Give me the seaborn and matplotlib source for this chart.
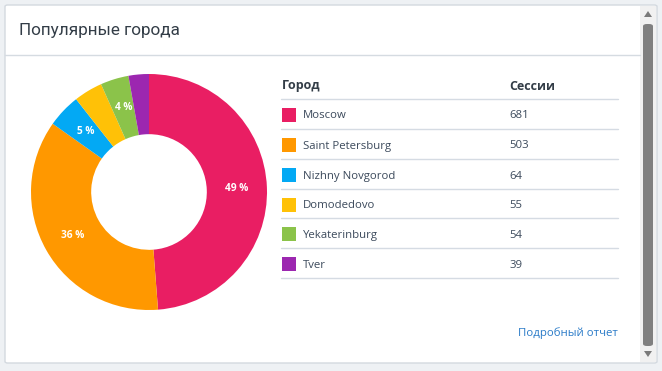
import matplotlib
matplotlib.use('Agg')
import matplotlib.pyplot as plt
import seaborn as sns
from matplotlib.patches import FancyBboxPatch, Rectangle, Polygon
from matplotlib.lines import Line2D

# data
cities = ['Moscow', 'Saint Petersburg', 'Nizhny Novgorod', 'Domodedovo', 'Yekaterinburg', 'Tver']
sessions = [681, 503, 64, 55, 54, 39]
slice_labels = ['49 %', '36 %', '5 %', '', '4 %', '']
colors = sns.color_palette(['#E91E63', '#FF9800', '#03A9F4', '#FFC107', '#8BC34A', '#9C27B0'])
title = 'Популярные города'
col_headers = ['Город', 'Сессии']
link_text = 'Подробный отчет'

sns.set_theme(style='white')
plt.rcParams['font.family'] = ['Open Sans', 'DejaVu Sans']

W, H = 662, 371
fig = plt.figure(figsize=(W / 100, H / 100), dpi=100)
fig.patch.set_facecolor('#eef1f4')


def fx(x):
    return x / W


def fy(y):
    return 1 - y / H


# card
card = FancyBboxPatch((fx(5), fy(363)), fx(652), (358) / H, boxstyle='round,pad=0,rounding_size=0.004',
                      transform=fig.transFigure, facecolor='white', edgecolor='#d3d9df', linewidth=1,
                      zorder=-2)
fig.patches.append(card)
fig.lines.append(Line2D([fx(5), fx(640)], [fy(55), fy(55)], transform=fig.transFigure, color='#d5dbe1', lw=1))

# scrollbar
fig.patches.append(Rectangle((fx(640), fy(362)), fx(16), 356 / H, transform=fig.transFigure,
                             facecolor='#f1f1f1', edgecolor='none'))
fig.patches.append(FancyBboxPatch((fx(643), fy(346)), fx(10), 322 / H,
                                  boxstyle='round,pad=0,rounding_size=0.006', transform=fig.transFigure,
                                  facecolor='#808080', edgecolor='none'))
fig.patches.append(Polygon([[fx(644), fy(17)], [fx(652), fy(17)], [fx(648), fy(11)]], closed=True,
                           transform=fig.transFigure, facecolor='#7a7a7a', edgecolor='none'))
fig.patches.append(Polygon([[fx(644), fy(351)], [fx(652), fy(351)], [fx(648), fy(357)]], closed=True,
                           transform=fig.transFigure, facecolor='#7a7a7a', edgecolor='none'))

fig.text(fx(19), fy(31), title, fontsize=12.3, color='#333d47', va='center', ha='left',
         family=['Roboto', 'DejaVu Sans'])

# donut
cx, cy, r = 149, 192, 118
ax = fig.add_axes([fx(cx - r), fy(cy + r), fx(2 * r), 2 * r / H])
ax.set_zorder(5)

wedges, texts, autotexts = ax.pie(sessions, colors=colors, startangle=90, counterclock=False,
                                  radius=1, wedgeprops=dict(width=0.51, edgecolor='none'),
                                  autopct='%.0f', pctdistance=0.745,
                                  textprops=dict(color='white', fontsize=7.3, fontweight='bold'))
for t, lab in zip(autotexts, slice_labels):
    t.set_text(lab)
ax.set_xlim(-1, 1)
ax.set_ylim(-1, 1)
ax.set_aspect('equal')
ax.axis('off')

# table
x0, x1 = 281, 618
fig.text(fx(282), fy(86), col_headers[0], fontsize=9, fontweight='bold', color='#333d47', va='center')
fig.text(fx(509), fy(86), col_headers[1], fontsize=9, fontweight='bold', color='#333d47', va='center')
line_y = [99, 129, 159, 189, 218, 248, 278]
for y in line_y:
    fig.lines.append(Line2D([fx(x0), fx(x1)], [fy(y), fy(y)], transform=fig.transFigure,
                            color='#d5dbe3', lw=1))
for i, (city, val, c) in enumerate(zip(cities, sessions, colors)):
    yc = (line_y[i] + line_y[i + 1]) / 2
    fig.patches.append(Rectangle((fx(282), fy(yc + 8)), fx(14), 14 / H, transform=fig.transFigure,
                                 facecolor=c, edgecolor='none'))
    fig.text(fx(303), fy(yc + 2), city, fontsize=8.2, color='#3c4a5c', va='center')
    fig.text(fx(509), fy(yc + 2), str(val), fontsize=8.2, color='#3c4a5c', va='center')

fig.text(fx(618), fy(333), link_text, fontsize=8.2, color='#2a7bc8', va='center', ha='right')

fig.savefig('out.png', dpi=100, facecolor=fig.get_facecolor())
